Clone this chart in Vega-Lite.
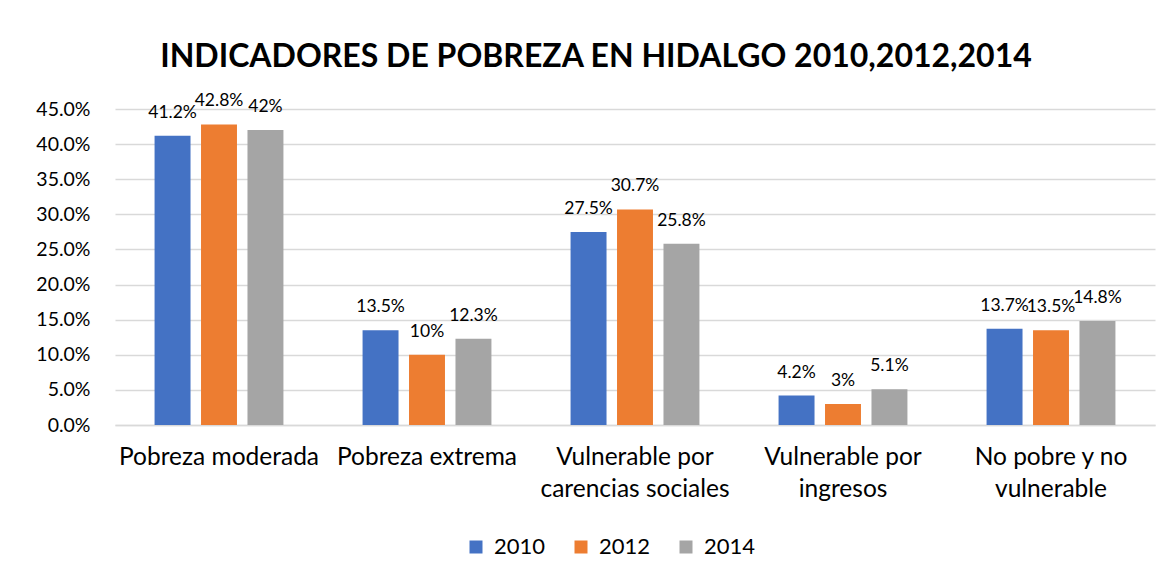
{
  "$schema": "https://vega.github.io/schema/vega-lite/v6.json",
  "width": 1040,
  "height": 316,
  "autosize": "none",
  "padding": {"left": 115, "top": 109, "right": 15, "bottom": 155},
  "background": "white",
  "config": {
    "font": "Lato",
    "view": {"stroke": null}
  },
  "title": {
    "text": "INDICADORES DE POBREZA EN HIDALGO 2010,2012,2014",
    "font": "Lato",
    "fontSize": 32,
    "fontWeight": "bold",
    "color": "#000000",
    "anchor": "middle",
    "dx": -39,
    "offset": 18
  },
  "data": {
    "values": [
      {"indicador": "Pobreza moderada", "anio": "2010", "valor": 0.412},
      {"indicador": "Pobreza moderada", "anio": "2012", "valor": 0.428},
      {"indicador": "Pobreza moderada", "anio": "2014", "valor": 0.42},
      {"indicador": "Pobreza extrema", "anio": "2010", "valor": 0.135},
      {"indicador": "Pobreza extrema", "anio": "2012", "valor": 0.10},
      {"indicador": "Pobreza extrema", "anio": "2014", "valor": 0.123},
      {"indicador": "Vulnerable por carencias sociales", "anio": "2010", "valor": 0.275},
      {"indicador": "Vulnerable por carencias sociales", "anio": "2012", "valor": 0.307},
      {"indicador": "Vulnerable por carencias sociales", "anio": "2014", "valor": 0.258},
      {"indicador": "Vulnerable por ingresos", "anio": "2010", "valor": 0.042},
      {"indicador": "Vulnerable por ingresos", "anio": "2012", "valor": 0.03},
      {"indicador": "Vulnerable por ingresos", "anio": "2014", "valor": 0.051},
      {"indicador": "No pobre y no vulnerable", "anio": "2010", "valor": 0.137},
      {"indicador": "No pobre y no vulnerable", "anio": "2012", "valor": 0.135},
      {"indicador": "No pobre y no vulnerable", "anio": "2014", "valor": 0.148}
    ]
  },
  "encoding": {
    "x": {
      "field": "indicador",
      "type": "nominal",
      "sort": null,
      "scale": {"paddingInner": 0.33, "paddingOuter": 0.165},
      "axis": {
        "title": null,
        "labelAngle": 0,
        "labelFont": "Lato",
        "labelFontSize": 24.5,
        "labelColor": "#000000",
        "labelPadding": 20,
        "labelBaseline": "top",
        "labelLineHeight": 32,
        "labelLimit": 300,
        "ticks": false,
        "domainColor": "#d9d9d9",
        "domainWidth": 1.5,
        "labelExpr": "datum.value == 'Vulnerable por carencias sociales' ? ['Vulnerable por', 'carencias sociales'] : datum.value == 'Vulnerable por ingresos' ? ['Vulnerable por', 'ingresos'] : datum.value == 'No pobre y no vulnerable' ? ['No pobre y no', 'vulnerable'] : datum.value"
      }
    },
    "xOffset": {
      "field": "anio",
      "type": "nominal",
      "scale": {"paddingInner": 0.226, "paddingOuter": 0.113}
    },
    "y": {
      "field": "valor",
      "type": "quantitative",
      "scale": {"domain": [0, 0.45], "nice": false},
      "axis": {
        "title": null,
        "format": ".1%",
        "values": [0, 0.05, 0.1, 0.15, 0.2, 0.25, 0.3, 0.35, 0.4, 0.45],
        "labelFont": "Lato",
        "labelFontSize": 19.5,
        "labelColor": "#000000",
        "labelPadding": 25,
        "domain": false,
        "ticks": false,
        "gridColor": "#d9d9d9",
        "gridWidth": 1.5
      }
    }
  },
  "layer": [
    {
      "mark": {"type": "bar"},
      "encoding": {
        "color": {
          "field": "anio",
          "type": "nominal",
          "scale": {"domain": ["2010", "2012", "2014"], "range": ["#4472C4", "#ED7D31", "#A5A5A5"]},
          "legend": {
            "title": null,
            "orient": "none",
            "direction": "horizontal",
            "legendX": 350,
            "legendY": 427,
            "symbolType": "square",
            "symbolSize": 169,
            "symbolStrokeWidth": 0,
            "labelFont": "Lato",
            "labelFontSize": 22,
            "labelColor": "#000000",
            "labelOffset": 7,
            "columnPadding": 24
          }
        }
      }
    },
    {
      "mark": {"type": "text", "baseline": "alphabetic", "dy": -18, "font": "Lato", "fontSize": 17.5, "color": "#000000"},
      "encoding": {
        "text": {"field": "valor", "type": "quantitative", "format": ".1~%"}
      }
    }
  ]
}
